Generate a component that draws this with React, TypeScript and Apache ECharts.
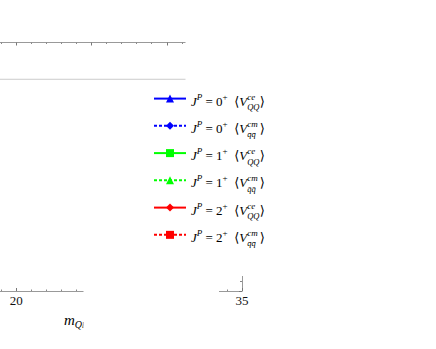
import React, { useEffect, useRef } from "react";
import * as echarts from "echarts";

// Axis ranges and visible tick labels
const xMin = 15;
const xMax = 35;
const xStep = 5;
const yMin = 0;
const yMax = 25;
const yStep = 5;
const xVisibleTickLabels = ["20", "35"];

// Series (legend entries)
const seriesNames = ["0+ ce QQ", "0+ cm qq", "1+ ce QQ", "1+ cm qq", "2+ ce QQ", "2+ cm qq"];
const seriesSpins = ["0", "0", "1", "1", "2", "2"];
const seriesPotSup = ["ce", "cm", "ce", "cm", "ce", "cm"];
const seriesPotSub = ["QQ", "q\u0304q\u0304", "QQ", "q\u0304q\u0304", "QQ", "q\u0304q\u0304"];
const seriesColors = ["#0000ff", "#0000ff", "#00ff00", "#00ff00", "#ff0000", "#ff0000"];
const seriesSymbols = ["triangle", "diamond", "rect", "triangle", "diamond", "rect"];
const seriesDashed = [false, true, false, true, false, true];
const seriesValues: number[][][] = [[], [], [], [], [], []];

// Light reference line
const refLineValues: number[][] = [
  [15, 21.3],
  [35, 21.3],
];

const SERIF = "Liberation Serif, DejaVu Serif, serif";
const SHIFT = 62; // the plot frame starts left of the visible page

export default function App() {
  const ref = useRef<HTMLDivElement>(null);
  useEffect(() => {
    if (!ref.current) return;
    const chart = echarts.init(ref.current, null, { renderer: "svg" });

    const legendText = (name: string) => {
      const i = seriesNames.indexOf(name);
      return `{i|J}{sup|P}{n| = ${seriesSpins[i]}}{supn|+}{n|  \u27E8}{i|V}{supz|${seriesPotSup[i]}}{sub|${seriesPotSub[i]}}{n|\u27E9}`;
    };

    const series: any[] = seriesNames.map((name, i) => ({
      name,
      type: "line",
      data: seriesValues[i],
      symbol: seriesSymbols[i],
      symbolSize: 8,
      itemStyle: { color: seriesColors[i] },
      lineStyle: {
        color: seriesColors[i],
        width: 1.5,
        type: seriesDashed[i] ? [3, 2] : "solid",
      },
    }));
    series.push({
      name: "ref",
      type: "line",
      data: refLineValues,
      symbol: "none",
      silent: true,
      lineStyle: { color: "#cccccc", width: 1 },
      z: 1,
    });

    const L = 26;
    const mainBase = { fontFamily: SERIF, fontSize: 13, lineHeight: L, padding: [5, 0, 0, 0], color: "#000" };
    const supBase = { fontFamily: SERIF, fontSize: 9, verticalAlign: "top", padding: [6.5, 0, 0, 0], color: "#000" };

    chart.setOption({
      animation: false,
      grid: { left: 0, right: 194, top: 42.5, bottom: 58, containLabel: false },
      xAxis: [
        {
          type: "value",
          position: "bottom",
          min: xMin,
          max: xMax,
          interval: xStep,
          axisLine: { show: true, lineStyle: { color: "#999", width: 1 } },
          axisTick: { show: true, inside: true, length: 3, lineStyle: { color: "#777" } },
          minorTick: { show: true, splitNumber: 5, length: 1.5, lineStyle: { color: "#888" } },
          splitLine: { show: false },
          axisLabel: {
            show: true,
            margin: 3,
            fontFamily: SERIF,
            fontSize: 13,
            color: "#111",
            formatter: (v: number) => (xVisibleTickLabels.includes(String(v)) ? String(v) : ""),
          },
        },
        {
          type: "value",
          position: "top",
          min: xMin,
          max: xMax,
          interval: xStep,
          axisLine: { show: true, lineStyle: { color: "#999", width: 1 } },
          axisTick: { show: true, inside: true, length: 3, lineStyle: { color: "#777" } },
          minorTick: { show: true, splitNumber: 5, length: 1.5, lineStyle: { color: "#888" } },
          splitLine: { show: false },
          axisLabel: { show: false },
        },
      ],
      yAxis: [
        {
          type: "value",
          position: "right",
          min: yMin,
          max: yMax,
          interval: yStep,
          axisLine: { show: true, lineStyle: { color: "#999", width: 1 } },
          axisTick: { show: true, inside: true, length: 3, lineStyle: { color: "#777" } },
          minorTick: { show: true, splitNumber: 5, length: 2, lineStyle: { color: "#888" } },
          splitLine: { show: false },
          axisLabel: { show: false },
        },
      ],
      legend: {
        data: seriesNames,
        orient: "vertical",
        left: 153 + SHIFT,
        top: 89.6,
        padding: 0,
        itemWidth: 32,
        itemHeight: 10,
        itemGap: 5.25,
        z: 10,
        selectedMode: false,
        formatter: legendText,
        textStyle: {
          color: "#000",
          fontFamily: SERIF,
          fontSize: 13,
          rich: {
            i: { ...mainBase, fontStyle: "italic" },
            n: { ...mainBase },
            sup: { ...supBase, fontStyle: "italic" },
            supn: { ...supBase },
            supz: { ...supBase, fontStyle: "italic", width: 0 },
            sub: { fontFamily: SERIF, fontStyle: "italic", fontSize: 8.5, verticalAlign: "bottom", width: 12.5, color: "#000" },
          },
        },
      },
      graphic: [
        {
          type: "text",
          left: 64 + SHIFT,
          top: 312,
          z: 1,
          style: {
            text: "{m|m}{s|Q}{ss|l}",
            rich: {
              m: { fontFamily: SERIF, fontStyle: "italic", fontSize: 15, lineHeight: 20, color: "#000" },
              s: { fontFamily: SERIF, fontStyle: "italic", fontSize: 10, verticalAlign: "bottom", color: "#000" },
              ss: { fontFamily: SERIF, fontStyle: "italic", fontSize: 8, verticalAlign: "bottom", color: "#000" },
            },
          },
        },
        {
          type: "rect",
          shape: { x: 185.5 + SHIFT, y: 0, width: 260, height: 276 },
          style: { fill: "#ffffff" },
          z: 5,
          silent: true,
        },
        {
          type: "rect",
          shape: { x: 83.5 + SHIFT, y: 250, width: 135.5, height: 110 },
          style: { fill: "#ffffff" },
          z: 5,
          silent: true,
        },
      ],
      series,
    });
    return () => chart.dispose();
  }, []);
  return (
    <div
      ref={ref}
      style={{ position: "absolute", left: -SHIFT, top: 0, width: 436 + SHIFT, height: 349 }}
    />
  );
}
